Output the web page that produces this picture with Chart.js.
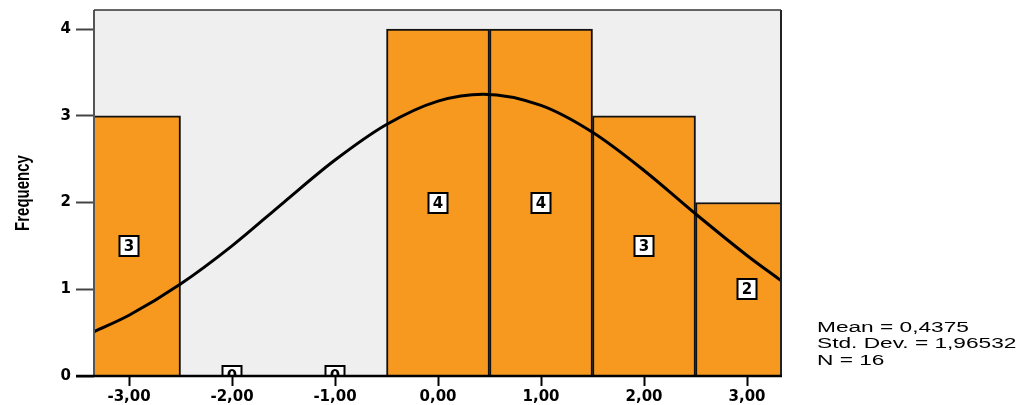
<!DOCTYPE html>
<html>
<head>
<meta charset="utf-8">
<script src="https://cdn.jsdelivr.net/npm/chart.js@4/dist/chart.umd.min.js"></script>
<style>
  html, body { margin: 0; padding: 0; background: #ffffff; }
  #wrap { width: 1021px; height: 405px; position: relative; }
</style>
</head>
<body>
<div id="wrap"><canvas id="hist"></canvas></div>
<script>
// Histogram bins (bin centres) and their frequencies
const binCenters = [-3, -2, -1, 0, 1, 2, 3];
const frequencies = [3, 0, 0, 4, 4, 3, 2];

// Fitted normal curve, sampled along the x axis
const curveX = [-3.34, -3, -2.5, -2, -1.5, -1, -0.5, 0, 0.44, 1, 1.5, 2, 2.5, 3, 3.33];
const curveY = [0.51, 0.70, 1.06, 1.50, 2.00, 2.49, 2.90, 3.17, 3.25, 3.12, 2.81, 2.37, 1.87, 1.39, 1.10];

// Axis ticks
const xTicks = [-3, -2, -1, 0, 1, 2, 3];
const yTicks = [0, 1, 2, 3, 4];

// Axis title and summary statistics
const yTitle = 'Frequency';
const statLines = ['Mean = 0,4375', 'Std. Dev. = 1,96532', 'N = 16'];

const BAR_COLOR = '#F7991F';

const plotBackground = {
  id: 'plotBackground',
  beforeDatasetsDraw(chart) {
    const { ctx, chartArea: a } = chart;
    ctx.save();
    ctx.fillStyle = '#EFEFEF';
    ctx.fillRect(a.left, a.top, a.right - a.left, a.bottom - a.top);
    ctx.restore();
  }
};

const countLabels = {
  id: 'countLabels',
  afterDatasetsDraw(chart) {
    const { ctx, chartArea: a } = chart;
    const xs = chart.scales.x, ys = chart.scales.y;
    ctx.save();
    ctx.beginPath();
    ctx.rect(a.left, a.top, a.right - a.left, a.bottom - a.top);
    ctx.clip();
    ctx.font = 'bold 15px "DejaVu Sans"';
    ctx.textAlign = 'center';
    ctx.textBaseline = 'middle';
    binCenters.forEach((c, i) => {
      const px = Math.round(xs.getPixelForValue(c));
      const py = Math.round(ys.getPixelForValue(frequencies[i] / 2));
      const w = 19, h = 20;
      ctx.fillStyle = '#ffffff';
      ctx.fillRect(px - w / 2, py - h / 2, w, h);
      ctx.lineWidth = 2;
      ctx.strokeStyle = '#000000';
      ctx.strokeRect(px - w / 2, py - h / 2, w, h);
      ctx.fillStyle = '#000000';
      ctx.fillText(String(frequencies[i]), px, py + 1);
    });
    ctx.restore();

    // plot frame
    ctx.save();
    ctx.lineWidth = 2;
    ctx.strokeStyle = '#555555';
    ctx.beginPath();
    ctx.moveTo(a.left, a.top); ctx.lineTo(a.left, a.bottom); ctx.stroke();
    ctx.strokeStyle = '#222222';
    ctx.beginPath();
    ctx.moveTo(a.right, a.top); ctx.lineTo(a.right, a.bottom); ctx.stroke();
    ctx.lineWidth = 1.5;
    ctx.strokeStyle = '#333333';
    ctx.beginPath();
    ctx.moveTo(a.left, a.top); ctx.lineTo(a.right, a.top); ctx.stroke();
    ctx.lineWidth = 2.5;
    ctx.strokeStyle = '#000000';
    ctx.beginPath();
    ctx.moveTo(a.left - 18, a.bottom); ctx.lineTo(a.right + 1, a.bottom); ctx.stroke();
    ctx.restore();
  }
};

const sideText = {
  id: 'sideText',
  afterDraw(chart) {
    const { ctx, chartArea: a } = chart;
    ctx.save();
    ctx.fillStyle = '#000000';

    // y axis title, rotated
    ctx.save();
    ctx.translate(23, (a.top + a.bottom) / 2);
    ctx.rotate(-Math.PI / 2);
    ctx.scale(1, 1.4);
    ctx.font = 'bold 15px "Liberation Sans"';
    ctx.textAlign = 'center';
    ctx.textBaseline = 'middle';
    ctx.fillText(yTitle, 0, 0);
    ctx.restore();

    // summary statistics
    ctx.font = '14px "Liberation Sans"';
    ctx.textBaseline = 'middle';
    ctx.textAlign = 'left';
    statLines.forEach((t, i) => {
      ctx.save();
      ctx.translate(817, 328 + i * 16.5);
      ctx.scale(1.62, 1);
      ctx.fillText(t, 0, 0);
      ctx.restore();
    });
    ctx.restore();
  }
};

new Chart(document.getElementById('hist'), {
  type: 'bar',
  data: {
    datasets: [
      {
        type: 'line',
        data: curveX.map((x, i) => ({ x, y: curveY[i] })),
        borderColor: '#000000',
        borderWidth: 3,
        pointRadius: 0,
        cubicInterpolationMode: 'monotone',
        fill: false,
        order: 0
      },
      {
        type: 'bar',
        data: binCenters.map((x, i) => ({ x, y: frequencies[i] })),
        backgroundColor: BAR_COLOR,
        borderColor: '#111111',
        borderWidth: 2,
        borderSkipped: 'bottom',
        categoryPercentage: 1.0,
        barPercentage: 1.0,
        grouped: false,
        order: 1
      }
    ]
  },
  options: {
    responsive: true,
    maintainAspectRatio: false,
    animation: false,
    events: [],
    layout: { padding: { top: 10, right: 240, bottom: 0, left: 0 } },
    plugins: { legend: { display: false }, tooltip: { enabled: false } },
    scales: {
      x: {
        type: 'linear',
        min: -3.34,
        max: 3.33,
        offset: false,
        afterFit(s) { s.height = 29; s.paddingLeft = 0; s.paddingRight = 0; },
        afterBuildTicks(s) { s.ticks = xTicks.map(v => ({ value: v })); },
        border: { display: false },
        grid: {
          offset: false,
          drawOnChartArea: false,
          drawTicks: true,
          tickLength: 10,
          tickColor: '#000000',
          tickWidth: 2
        },
        ticks: {
          color: '#000000',
          padding: 2,
          maxRotation: 0,
          font: { family: 'DejaVu Sans', weight: 'bold', size: 15 },
          callback: v => Number(v).toFixed(2).replace('.', ',')
        }
      },
      y: {
        min: 0,
        max: 4.22,
        afterFit(s) { s.width = 94; s.paddingTop = 0; s.paddingBottom = 0; },
        afterBuildTicks(s) { s.ticks = yTicks.map(v => ({ value: v })); },
        border: { display: false },
        grid: {
          offset: false,
          drawOnChartArea: false,
          drawTicks: true,
          tickLength: 18,
          tickColor: '#444444',
          tickWidth: 2
        },
        ticks: {
          color: '#000000',
          padding: 5,
          font: { family: 'DejaVu Sans', weight: 'bold', size: 15 }
        }
      }
    }
  },
  plugins: [plotBackground, countLabels, sideText]
});
</script>
</body>
</html>
